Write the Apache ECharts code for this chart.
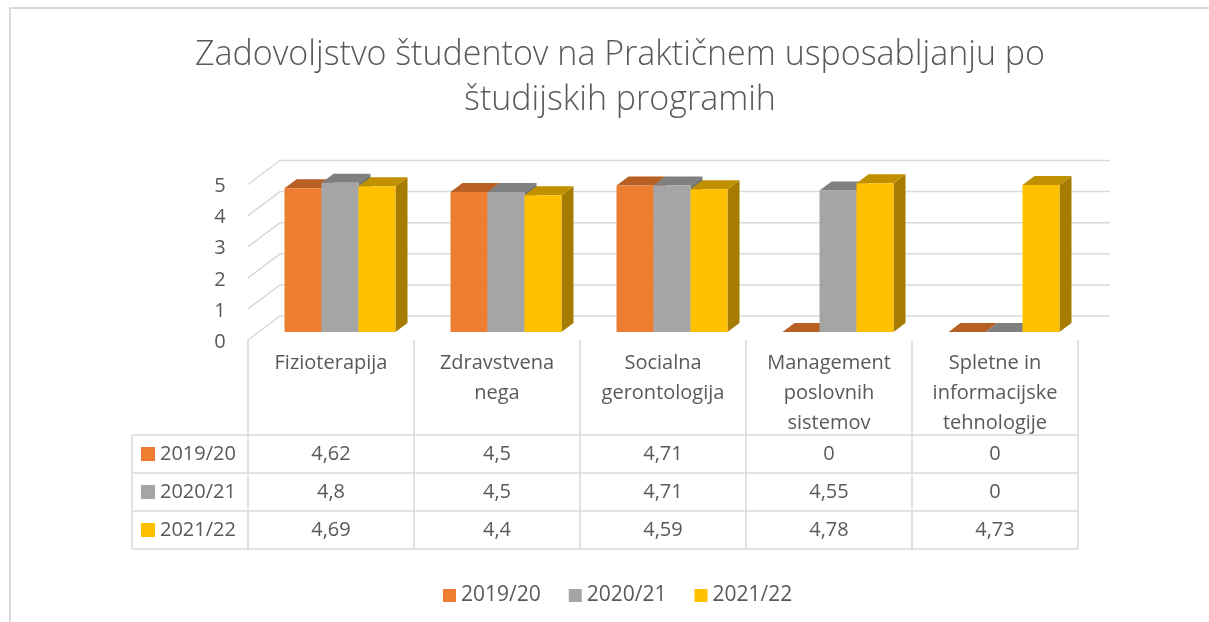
<!DOCTYPE html>
<html>
<head>
<meta charset="utf-8">
<style>
  html, body { margin: 0; padding: 0; background: #fff; }
  #chart { width: 1209px; height: 622px; }
</style>
<script src="https://cdn.jsdelivr.net/npm/echarts@6/dist/echarts.min.js"></script>
</head>
<body>
<div id="chart"></div>
<script>
// podatki
const categories = ['Fizioterapija', 'Zdravstvena\nnega', 'Socialna\ngerontologija', 'Management\nposlovnih\nsistemov', 'Spletne in\ninformacijske\ntehnologije']
const years = ['2019/20', '2020/21', '2021/22']
const values2019 = [4.62, 4.5, 4.71, 0, 0]
const values2020 = [4.8, 4.5, 4.71, 4.55, 0]
const values2021 = [4.69, 4.4, 4.59, 4.78, 4.73]
const yTicks = [0, 1, 2, 3, 4, 5]

const seriesValues = [values2019, values2020, values2021]
// barve: sprednja ploskev, zgornja, stranska
const colors = ['#ED7D31', '#A5A5A5', '#FFC000']
const topColors = ['#B85F24', '#7F7F7F', '#C09000']
const sideColors = ['#A8561F', '#747474', '#A67C00']

const FONT = '"Open Sans", sans-serif'
const TEXT = '#595959'
const LINE = '#D9D9D9'

// postavitev
const GRID_LEFT = 257
const GRID_W = 830
const GRID_TOP = 176.5
const GRID_BOTTOM_Y = 332
const BAR_W = 37
const DEPTH_X = 12
const DEPTH_Y = 9

// tabela
const TAB_LEFT = 132
const TAB_X0 = GRID_LEFT - 9
const COL_W = GRID_W / categories.length
const TAB_TOP = 340
const HEAD_BOTTOM = 435
const ROW_H = 38

let myChart = echarts.init(document.getElementById('chart'))

function barRenderer(idx) {
    return function (params, api) {
        let top = api.coord([api.value(0), api.value(1)])
        let base = api.coord([api.value(0), 0])
        let x0 = top[0] - BAR_W * 1.5 + idx * BAR_W
        let y0 = top[1]
        let y1 = base[1]
        return {
            type: 'group',
            children: [
                {
                    type: 'polygon',
                    shape: { points: [[x0 + BAR_W, y0], [x0 + BAR_W + DEPTH_X, y0 - DEPTH_Y], [x0 + BAR_W + DEPTH_X, y1 - DEPTH_Y], [x0 + BAR_W, y1]] },
                    style: { fill: sideColors[idx] }
                },
                {
                    type: 'polygon',
                    shape: { points: [[x0, y0], [x0 + DEPTH_X, y0 - DEPTH_Y], [x0 + BAR_W + DEPTH_X, y0 - DEPTH_Y], [x0 + BAR_W, y0]] },
                    style: { fill: topColors[idx] }
                },
                {
                    type: 'rect',
                    shape: { x: x0, y: y0, width: BAR_W, height: y1 - y0 },
                    style: { fill: colors[idx] }
                }
            ]
        }
    }
}

function gridRenderer(params, api) {
    let cs = params.coordSys
    let y = api.coord([0, api.value(1)])[1]
    return {
        type: 'group',
        children: [
            {
                type: 'polyline',
                shape: { points: [[cs.x - 9, y + 8], [cs.x + 23, y - 16], [cs.x + 23 + cs.width, y - 16]] },
                style: { stroke: LINE, lineWidth: 1.5, fill: null }
            },
            {
                type: 'text',
                style: { x: 220, y: y + 10, text: String(api.value(1)), fill: TEXT, font: '20px ' + FONT, align: 'center', verticalAlign: 'middle' }
            }
        ]
    }
}

// tabela pod grafom
let graphics = []
graphics.push({
    type: 'rect', silent: true,
    shape: { x: 10, y: 8, width: 1260, height: 700 },
    style: { fill: null, stroke: LINE, lineWidth: 2 }
})
let tableBottom = HEAD_BOTTOM + ROW_H * years.length
for (let i = 0; i <= categories.length; i++) {
    let x = TAB_X0 + i * COL_W
    graphics.push({ type: 'line', silent: true, shape: { x1: x, y1: TAB_TOP, x2: x, y2: tableBottom }, style: { stroke: LINE, lineWidth: 1.5 } })
}
graphics.push({ type: 'line', silent: true, shape: { x1: TAB_LEFT, y1: HEAD_BOTTOM, x2: TAB_LEFT, y2: tableBottom }, style: { stroke: LINE, lineWidth: 1.5 } })
for (let r = 0; r <= years.length; r++) {
    let y = HEAD_BOTTOM + r * ROW_H
    graphics.push({ type: 'line', silent: true, shape: { x1: TAB_LEFT, y1: y, x2: TAB_X0 + GRID_W, y2: y }, style: { stroke: LINE, lineWidth: 1.5 } })
}
for (let i = 0; i < categories.length; i++) {
    graphics.push({
        type: 'text', silent: true,
        style: { x: TAB_X0 + (i + 0.5) * COL_W, y: 348, text: categories[i], fill: TEXT, font: '20px ' + FONT, align: 'center', verticalAlign: 'top', lineHeight: 30 }
    })
}
for (let r = 0; r < years.length; r++) {
    let cy = HEAD_BOTTOM + (r + 0.5) * ROW_H
    graphics.push({ type: 'rect', silent: true, shape: { x: 141, y: cy - 7, width: 14, height: 14 }, style: { fill: colors[r] } })
    graphics.push({ type: 'text', silent: true, style: { x: 160, y: cy, text: years[r], fill: TEXT, font: '20px ' + FONT, verticalAlign: 'middle' } })
    for (let i = 0; i < categories.length; i++) {
        graphics.push({
            type: 'text', silent: true,
            style: { x: TAB_X0 + (i + 0.5) * COL_W, y: cy, text: String(seriesValues[r][i]).replace('.', ','), fill: TEXT, font: '20px ' + FONT, align: 'center', verticalAlign: 'middle' }
        })
    }
}

let series = [{
    type: 'custom',
    name: 'grid',
    data: yTicks.map(v => [0, v]),
    renderItem: gridRenderer,
    silent: true,
    z: 1
}]
for (let s = 0; s < years.length; s++) {
    series.push({
        type: 'custom',
        name: years[s],
        data: seriesValues[s].map((v, i) => [i, v]),
        renderItem: barRenderer(s),
        itemStyle: { color: colors[s] },
        z: 2 + s
    })
}

myChart.setOption({
    animation: false,
    title: {
        text: 'Zadovoljstvo študentov na Praktičnem usposabljanju po\nštudijskih programih',
        left: 615,
        textAlign: 'center',
        top: 28,
        textStyle: { fontFamily: FONT, fontWeight: 300, fontSize: 34, color: TEXT, lineHeight: 45 }
    },
    legend: {
        data: years,
        bottom: 16,
        left: 443,
        padding: 0,
        icon: 'rect',
        itemWidth: 13,
        itemHeight: 13,
        itemGap: 28,
        textStyle: { fontFamily: FONT, fontSize: 21, color: TEXT }
    },
    grid: {
        left: GRID_LEFT,
        width: GRID_W,
        top: GRID_TOP,
        height: GRID_BOTTOM_Y - GRID_TOP
    },
    xAxis: {
        type: 'category',
        data: categories,
        show: false
    },
    yAxis: {
        type: 'value',
        min: 0,
        max: 5,
        interval: 1,
        show: false
    },
    graphic: graphics,
    series: series
})
</script>
</body>
</html>
